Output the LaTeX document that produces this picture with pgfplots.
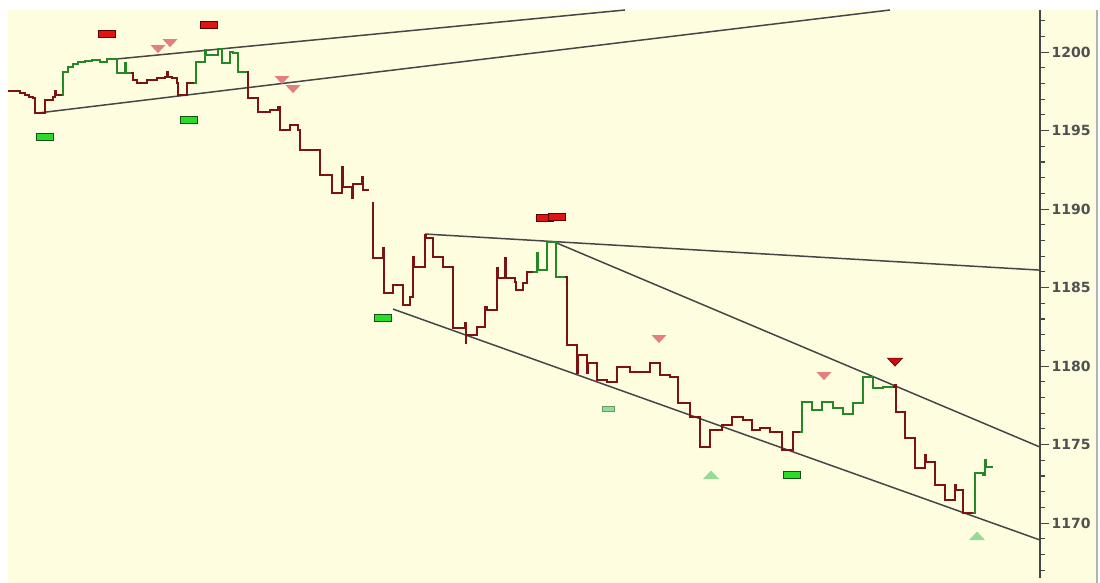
\documentclass[border=0pt]{standalone}
\usepackage{fontspec}
\setmainfont{DejaVu Sans}
\usepackage{pgfplots}
\pgfplotsset{compat=1.18}
\definecolor{bgy}{RGB}{254,253,224}
\definecolor{pricered}{RGB}{125,18,18}
\definecolor{pricegreen}{RGB}{36,136,36}
\definecolor{trend}{RGB}{70,70,70}
\definecolor{axgray}{RGB}{70,70,70}
\definecolor{labgray}{RGB}{80,80,80}
\definecolor{rectred}{RGB}{225,20,20}
\definecolor{rectredb}{RGB}{90,0,0}
\definecolor{rectgreen}{RGB}{40,220,40}
\definecolor{rectgreenb}{RGB}{20,80,20}
\definecolor{pinktri}{RGB}{226,128,128}
\definecolor{darkredtri}{RGB}{205,10,10}
\definecolor{lightgreen}{RGB}{150,218,150}
\pgfdeclareplotmark{hrect}{\pgfpathrectangle{\pgfpoint{-8.5pt}{-3.75pt}}{\pgfpoint{17pt}{7.5pt}}\pgfusepathqfillstroke}
\pgfdeclareplotmark{srect}{\pgfpathrectangle{\pgfpoint{-6pt}{-2.5pt}}{\pgfpoint{12pt}{5pt}}\pgfusepathqfillstroke}
\pgfdeclareplotmark{dtri}{\pgfpathmoveto{\pgfpoint{-7.5pt}{4pt}}\pgfpathlineto{\pgfpoint{7.5pt}{4pt}}\pgfpathlineto{\pgfpoint{0pt}{-4pt}}\pgfpathclose\pgfusepathqfill}
\pgfdeclareplotmark{dtrib}{\pgfpathmoveto{\pgfpoint{-7.5pt}{4pt}}\pgfpathlineto{\pgfpoint{7.5pt}{4pt}}\pgfpathlineto{\pgfpoint{0pt}{-4pt}}\pgfpathclose\pgfusepathqfillstroke}
\pgfdeclareplotmark{utri}{\pgfpathmoveto{\pgfpoint{-8pt}{-4pt}}\pgfpathlineto{\pgfpoint{8pt}{-4pt}}\pgfpathlineto{\pgfpoint{0pt}{4.5pt}}\pgfpathclose\pgfusepathqfill}
\begin{document}
\begin{tikzpicture}[x=1pt,y=1pt]
\path[use as bounding box] (0,0) rectangle (1100,583);
\fill[bgy] (8,0) rectangle (1097,573);
\draw[gray!60, line width=1.5pt] (1097,0) -- (1097,573);
\begin{axis}[
  at={(8pt,5pt)}, anchor=south west,
  scale only axis, width=1032pt, height=568pt,
  xmin=8, xmax=1040, ymin=1166.5, ymax=1202.68,
  axis x line=none, axis y line*=right,
  axis line style={axgray, line width=1.4pt},
  ytick={1170,1175,...,1200},
  minor ytick={1167,1168,...,1202},
  tick align=outside,
  major tick length=9pt, minor tick length=5pt,
  every tick/.style={axgray, line width=1.1pt},
  yticklabel style={font=\fontsize{14}{15}\selectfont\bfseries, text=labgray, xshift=-1pt},
  /pgf/number format/1000 sep={},
  /pgf/number format/assume math mode=true,
  clip=true,
]
% trend lines
\addplot[trend, line width=1.5pt] coordinates {(115,1199.55) (625,1202.68)};
\addplot[trend, line width=1.5pt] coordinates {(37,1196.11) (890,1202.68)};
\addplot[trend, line width=1.5pt] coordinates {(425,1188.41) (1040,1186.11)};
\addplot[trend, line width=1.5pt] coordinates {(557,1187.83) (1040,1174.84)};
\addplot[trend, line width=1.5pt] coordinates {(393,1183.63) (1040,1168.92)};
% price path
\pgfplotsset{pr/.style={pricered, line width=2pt, const plot, no marks}, pg/.style={pricegreen, line width=2pt, const plot, no marks}}
\addplot[pr] coordinates {(8,1197.52)(20,1197.39)(25,1197.26)(29,1197.13)(33,1197.07)(35,1196.11)(45,1196.94)(53,1197.13)(55,1197.52)(55.5,1197.26)(62,1197.26)};
\addplot[pg] coordinates {(62,1197.26)(63,1198.73)(68,1199.04)(73,1199.24)(78,1199.36)(85,1199.43)(92,1199.49)(100,1199.36)(107,1199.55)(117,1198.66)(125,1199.30)(125.5,1198.66)(131,1198.66)};
\addplot[pr] coordinates {(131,1198.66)(133,1198.22)(137,1198.03)(147,1198.22)(157,1198.34)(165,1198.41)(167,1198.73)(167.5,1198.41)(172,1198.34)(177,1198.03)(178,1197.26)(187,1198.03)(194,1198.03)};
\addplot[pg] coordinates {(194,1198.03)(196,1199.36)(205,1200.13)(206,1199.81)(218,1200.19)(222,1199.30)(230,1200.00)(233,1199.94)(238,1198.73)(247,1198.73)};
\addplot[pr] coordinates {(247,1198.73)(248,1197.07)(258,1196.18)(270,1196.31)(278,1196.50)(280,1195.03)(290,1195.35)(298,1195.03)(300,1193.76)(320,1192.17)(332,1191.02)(342,1192.68)(342.5,1191.40)(352,1190.70)(352.5,1191.59)(362,1192.04)(362.5,1191.21)(369,1191.21)};
\addplot[pr] coordinates {(372,1190.38)(372.5,1186.88)(383,1187.52)(383.5,1184.65)(393,1185.16)(403,1183.89)(410,1184.39)(413,1186.94)(413.5,1186.31)(425,1188.34)(426,1188.15)(433,1186.94)(443,1186.31)(453,1182.42)(465,1182.74)(465.5,1181.47)(466,1181.97)(477,1182.48)(485,1183.76)(487,1183.57)(497,1186.24)(497.5,1185.61)(505,1186.88)(505.5,1185.61)(515,1185.35)(515.5,1184.84)(523,1185.29)(527,1185.99)(533,1185.99)};
\addplot[pg] coordinates {(533,1185.99)(537,1187.20)(537.5,1186.11)(547,1187.90)(556,1185.67)(565,1185.67)};
\addplot[pr] coordinates {(565,1185.67)(567,1181.34)(577,1179.55)(577.5,1180.70)(587,1179.55)(587.5,1180.19)(597,1179.11)(607,1178.98)(617,1179.94)(630,1179.62)(650,1180.19)(660,1179.43)(670,1179.30)(678,1177.64)(690,1176.75)(700,1174.84)(710,1175.92)(722,1176.24)(732,1176.75)(743,1176.56)(752,1175.92)(760,1176.05)(770,1175.80)(782,1174.65)(793,1175.80)(800,1175.80)};
\addplot[pg] coordinates {(800,1175.80)(802,1177.71)(812,1177.20)(822,1177.71)(833,1177.32)(843,1176.94)(853,1177.64)(863,1179.30)(873,1178.60)(883,1178.66)(893,1178.66)};
\addplot[pr] coordinates {(893,1178.66)(895,1178.79)(895.5,1177.07)(905,1175.41)(915,1173.50)(925,1174.33)(925.5,1173.89)(935,1172.42)(945,1171.47)(955,1172.42)(955.5,1172.10)(963,1170.64)(973,1170.64)};
\addplot[pg] coordinates {(973,1170.64)(975,1173.19)(983,1173.06)(985,1174.01)(985.5,1173.57)(993,1173.57)};
% markers
\addplot[only marks, mark=hrect, mark options={fill=rectred, draw=rectredb, line width=0.8pt}] coordinates {(107,1201.15)(209,1201.72)(545,1189.43)(557,1189.49)};
\addplot[only marks, mark=hrect, mark options={fill=rectgreen, draw=rectgreenb, line width=0.8pt}] coordinates {(45,1194.59)(189,1195.67)(383,1183.06)(792,1173.06)};
\addplot[only marks, mark=srect, mark options={fill=lightgreen, draw=lightgreen!70!black, line width=0.5pt}] coordinates {(608,1177.26)};
\addplot[only marks, mark=dtri, mark options={fill=pinktri}] coordinates {(158,1200.19)(170,1200.57)(282,1198.22)(293,1197.64)(659,1181.72)(824,1179.36)};
\addplot[only marks, mark=dtrib, mark options={fill=darkredtri, draw=rectredb, line width=0.6pt}] coordinates {(895,1180.25)};
\addplot[only marks, mark=utri, mark options={fill=lightgreen}] coordinates {(711,1173.06)(977,1169.17)};
\end{axis}
\end{tikzpicture}
\end{document}
